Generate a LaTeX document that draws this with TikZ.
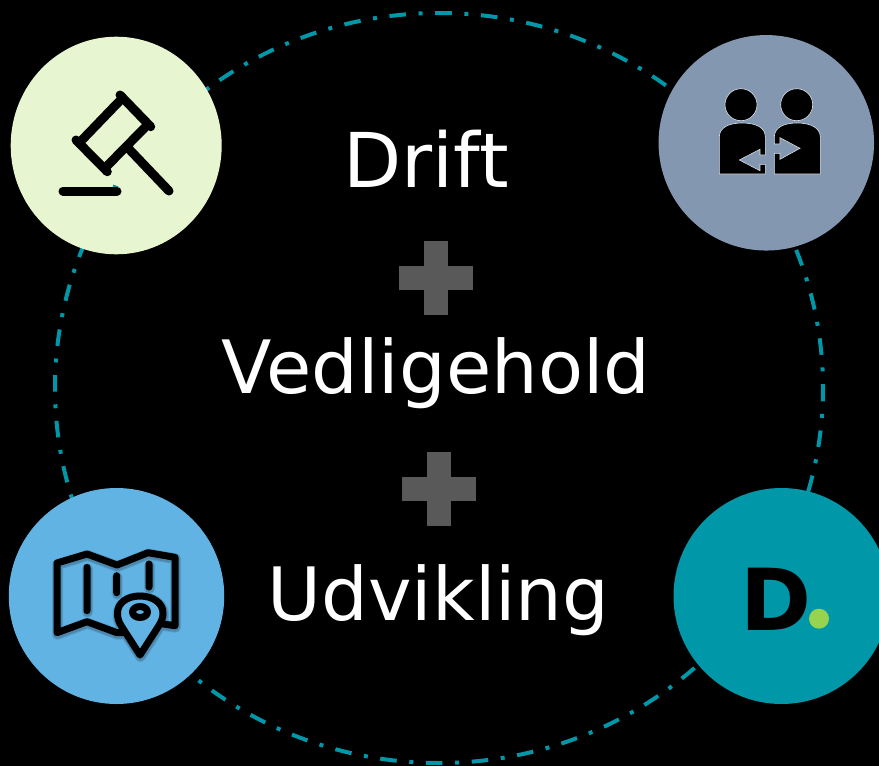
\documentclass[tikz,border=0pt]{standalone}
\usepackage{fontspec}
\setmainfont{DejaVu Sans}
\usetikzlibrary{shapes.geometric}
\definecolor{ringteal}{HTML}{0097A9}
\definecolor{palegreen}{HTML}{E7F5D1}
\definecolor{slateblue}{HTML}{8497B0}
\definecolor{skyblue}{HTML}{61B3E4}
\definecolor{plusgray}{HTML}{595959}
\definecolor{dotgreen}{HTML}{97D34F}
\tikzset{
  badge/.style={ellipse,inner sep=0pt,draw=none},
  title/.style={text=white,font=\fontsize{73.6}{73.6}\selectfont,anchor=base},
  iconline/.style={draw=black,line width=9pt,line cap=round,line join=round},
  mapline/.style={draw=black,line width=7pt,line cap=round,line join=round},
  peopleline/.style={draw=white!75!slateblue,line width=0.6pt,fill=black},
}
\newcommand{\mapoutline}{
    (175,625.7) -- (175,557.3) -- (148,552.7) -- (117,565) -- (87,554) -- (57,563) -- (57,632.7) -- (87,621.7) -- (117,632.7) -- (135,632.7)
    (175,625.7) -- (160,623.5)
    (87,567.3) -- (87,610.7)
    (116.7,575.7) -- (116.7,592.7)
    (149,564) -- (149,587)
}
\newcommand{\pinoutline}{
    (140,655) -- (122,627) .. controls (118,621) and (117.5,617) .. (117.5,613) .. controls (117.5,603) and (127,596) .. (140,596) .. controls (153,596) and (163,603) .. (163,613) .. controls (163,617) and (162,621) .. (158,627) -- cycle
}
\begin{document}
\begin{tikzpicture}[x=1pt,y=-1pt]
    \useasboundingbox (0,0) rectangle (879,766);
    \fill[black] (0,0) rectangle (879,766);
    \draw[ringteal,line width=4pt,dash pattern=on 16.6pt off 12.6pt on 4pt off 12.65pt,dash phase=3.3pt] (439,388) ellipse [x radius=384,y radius=375];

    \node[badge,fill=palegreen,minimum width=211pt,minimum height=217.6pt] (gavel) at (116.2,145.5) {};
    \node[badge,fill=slateblue,minimum width=215.5pt,minimum height=215.5pt] (people) at (766.3,142.8) {};
    \node[badge,fill=skyblue,minimum width=215.5pt,minimum height=216pt] (map) at (116.5,596) {};
    \node[badge,fill=ringteal,minimum width=216pt,minimum height=216pt] (logo) at (781.5,596) {};

    % gavel
    \draw[ringteal,line width=2pt] (113,185.5) -- (118,187.5);
    \draw[iconline] (120,95) -- (150.7,126.7);
    \draw[iconline] (76,140) -- (107.3,171.7);
    \draw[iconline] (119.5,101.1) -- (82.5,139.5);
    \draw[iconline] (144.9,127.5) -- (107.5,165.5);
    \draw[iconline] (128,148) -- (169,191);
    \draw[iconline] (63,191) -- (117,191);

    % people
    \draw[peopleline] (741,104.7) circle (16);
    \draw[peopleline] (796.7,104.7) circle (16);
    \draw[peopleline] (719.3,174) -- (719.3,137) .. controls (719.3,128) and (728,123) .. (742,123) .. controls (757,123) and (765.3,128) .. (765.3,137) -- (765.3,155) -- (760,155) -- (760,149.3) -- (739.3,160) -- (760,170.7) -- (760,164.3) -- (765.3,164.3) -- (765.3,174) -- cycle;
    \draw[peopleline] (820.3,174) -- (820.3,137) .. controls (820.3,128) and (811,123) .. (797,123) .. controls (783,123) and (774.3,128) .. (774.3,137) -- (774.3,144) -- (780,144) -- (780,137.7) -- (800,148.3) -- (780,159.3) -- (780,153.3) -- (774.3,153.3) -- (774.3,174) -- cycle;

    % map, with its soft shadow first
    \foreach \spread in {11,9}{
      \draw[black,opacity=0.12,line width=\spread pt,line cap=round,line join=round,shift={(0.5,1.5)}] \mapoutline \pinoutline;
    }
    \draw[mapline] \mapoutline;
    \draw[mapline,fill=skyblue] \pinoutline;
    \draw[mapline] (140,612) ellipse [x radius=7.5,y radius=5.5];

    % logo
    \node[text=black,font=\fontsize{85.6}{85.6}\selectfont\bfseries,anchor=base] (letter) at (776,630.7) {D};
    \fill[dotgreen] (819,618.7) circle (10);

    % plus signs
    \foreach \px/\py in {436/278,439/489}{
      \fill[plusgray] (\px-12,\py-37) rectangle (\px+12,\py+37);
      \fill[plusgray] (\px-37,\py-12) rectangle (\px+37,\py+12);
    }

    \node[title,font=\fontsize{75.6}{75.6}\selectfont] (drift) at (426,187) {Drift};
    \node[title] (upkeep) at (436,393) {Vedligehold};
    \node[title] (growth) at (438.5,620) {Udvikling};
  \end{tikzpicture}
\end{document}
